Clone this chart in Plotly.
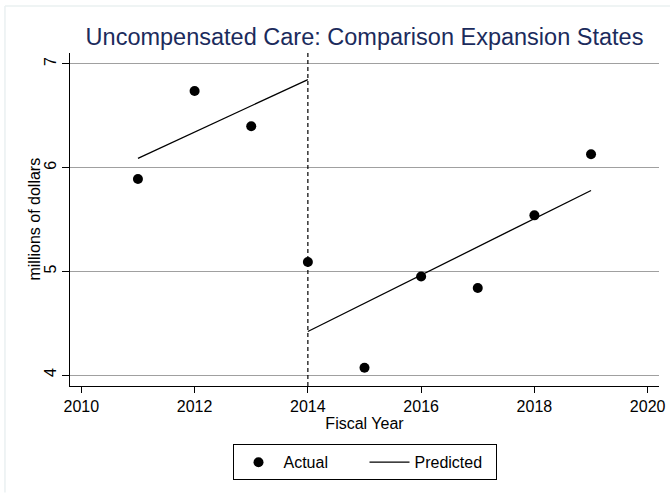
import plotly.graph_objects as go

# Data
years = [2011, 2012, 2013, 2014, 2015, 2016, 2017, 2018, 2019]
actual = [5.89, 6.74, 6.40, 5.09, 4.07, 4.95, 4.84, 5.54, 6.13]

pred_pre_years = [2011, 2014]
pred_pre_values = [6.09, 6.85]
pred_post_years = [2014, 2019]
pred_post_values = [4.42, 5.78]

x_ticks = [2010, 2012, 2014, 2016, 2018, 2020]
y_ticks = [4, 5, 6, 7]
cutoff_year = 2014

title_text = "Uncompensated Care: Comparison Expansion States"
x_title = "Fiscal Year"
y_title = "millions of dollars"

FONT = "Liberation Sans, Arial, Helvetica, sans-serif"
FS = 16

fig = go.Figure()

fig.add_trace(go.Scatter(
    x=years, y=actual, mode="markers", name="Actual",
    marker=dict(color="black", size=10, symbol="circle"),
))

fig.add_trace(go.Scatter(
    x=pred_pre_years + [None] + pred_post_years,
    y=pred_pre_values + [None] + pred_post_values,
    mode="lines", name="Predicted",
    line=dict(color="black", width=1.3),
    connectgaps=False,
))

fig.add_shape(type="line", xref="x", yref="paper",
              x0=cutoff_year, x1=cutoff_year, y0=0, y1=1,
              line=dict(color="black", width=1.2, dash="4px,3px"))

# faint outer frame (graph region edge)
fig.add_shape(type="line", xref="paper", yref="paper",
              x0=-0.1104, x1=-0.1104, y0=-0.32, y1=1.141,
              line=dict(color="#eaf0f1", width=1.5))
fig.add_shape(type="line", xref="paper", yref="paper",
              x0=-0.1104, x1=1.02, y0=1.141, y1=1.141,
              line=dict(color="#eaf0f1", width=1.5))

# y-axis title placed as an annotation
fig.add_annotation(text=y_title, xref="paper", yref="paper",
                   x=-0.0611, y=0.5, xanchor="center", yanchor="middle",
                   textangle=-90, showarrow=False,
                   font=dict(family=FONT, size=FS, color="black"))

fig.update_layout(
    width=670, height=493,
    margin=dict(l=70, r=11, t=53, b=107, autoexpand=False),
    paper_bgcolor="white", plot_bgcolor="white",
    font=dict(family=FONT, size=FS, color="black"),
    title=dict(text=title_text, x=0.5, xref="paper", xanchor="center",
               y=1 - 37 / 493, yref="container", yanchor="middle",
               font=dict(family=FONT, size=23.5, color="#1b2b5c")),
    showlegend=True,
    legend=dict(orientation="h", x=0.5, xanchor="center", y=-0.175, yanchor="top",
                bordercolor="black", borderwidth=1, bgcolor="white",
                font=dict(family=FONT, size=FS, color="black"),
                itemwidth=40, entrywidth=76, entrywidthmode="pixels",
                tracegroupgap=0),
)

fig.update_xaxes(
    range=[2009.8, 2020.2], tickmode="array", tickvals=x_ticks,
    ticktext=[str(v) for v in x_ticks],
    showline=True, linecolor="black", linewidth=1,
    ticks="outside", ticklen=6, tickcolor="black", tickwidth=1,
    showgrid=False, zeroline=False,
    title=dict(text=x_title, standoff=2, font=dict(family=FONT, size=FS)),
    tickfont=dict(family=FONT, size=FS),
)

fig.update_yaxes(
    range=[3.894, 7.106], tickmode="array", tickvals=y_ticks,
    ticktext=[str(v) for v in y_ticks], tickangle=-90,
    showline=True, linecolor="black", linewidth=1,
    ticks="outside", ticklen=7, tickcolor="black", tickwidth=1,
    showgrid=True, gridcolor="#a0a0a0", gridwidth=1.3, zeroline=False,
    tickfont=dict(family=FONT, size=FS),
)

fig.write_html("out.html", config={"displayModeBar": False},
               post_script="document.body.style.margin='0';document.body.style.padding='0';")
